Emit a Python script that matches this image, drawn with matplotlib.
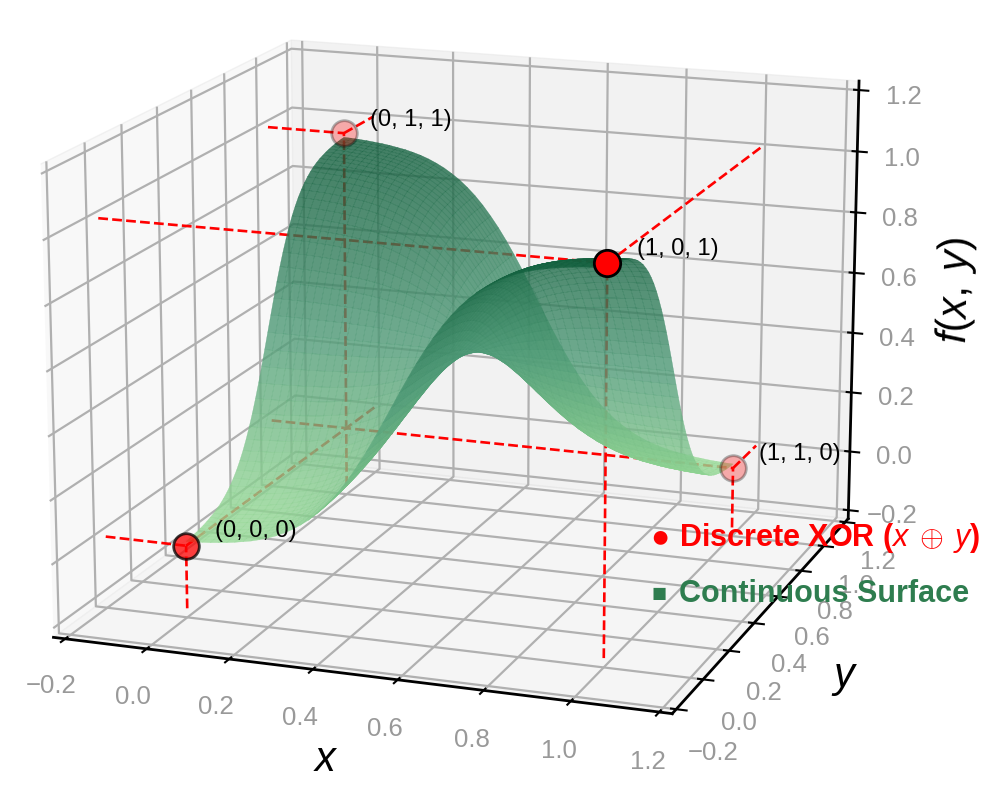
import matplotlib
matplotlib.use("Agg")
import matplotlib.pyplot as plt
from matplotlib.colors import LinearSegmentedColormap
import numpy as np

plt.rcParams['font.family'] = ['Liberation Sans', 'DejaVu Sans']
plt.rcParams['mathtext.fontset'] = 'custom'
plt.rcParams['mathtext.rm'] = 'Liberation Sans'
plt.rcParams['mathtext.it'] = 'Liberation Sans:italic'
plt.rcParams['mathtext.bf'] = 'Liberation Sans:bold'
plt.rcParams['axes3d.automargin'] = True

# transition along one axis (step 0.02 from 0 to 1)
profile_low = [0.007, 0.008, 0.010, 0.012, 0.015, 0.018, 0.022, 0.027, 0.032, 0.039,
               0.047, 0.057, 0.069, 0.083, 0.100, 0.119, 0.142, 0.168, 0.198, 0.232,
               0.269, 0.310, 0.354, 0.401, 0.450]
profile_mid = [0.500]
profile_high = [0.550, 0.599, 0.646, 0.690, 0.731, 0.768, 0.802, 0.832, 0.858, 0.881,
                0.900, 0.917, 0.931, 0.943, 0.953, 0.961, 0.968, 0.973, 0.978, 0.982,
                0.985, 0.988, 0.990, 0.992, 0.993]
grid_x = [i / 50 for i in range(51)]

xor_x = [0, 0, 1, 1]
xor_y = [0, 1, 0, 1]
xor_z = [0, 1, 1, 0]
xor_alpha = [0.75, 0.3, 1.0, 0.3]
xor_size = [340, 340, 360, 340]
point_labels = ["(0, 0, 0)", "(0, 1, 1)", "(1, 0, 1)", "(1, 1, 0)"]
ticks = [-0.2, 0.0, 0.2, 0.4, 0.6, 0.8, 1.0, 1.2]

fig = plt.figure(figsize=(9.97, 7.98), dpi=100)
ax = fig.add_axes([-0.042, 0.046, 1.0, 1.0], projection='3d', computed_zorder=False)
ax.view_init(elev=15.5, azim=-70.2)
ax.set_box_aspect((4, 4, 3), zoom=1.225)

profile = np.array(profile_low + profile_mid + profile_high)
X, Y = np.meshgrid(grid_x, grid_x)
sx, sy = np.meshgrid(profile, profile)
Z = sx * (1 - sy) + sy * (1 - sx)
greens = LinearSegmentedColormap.from_list('xor_greens', ['#98dc96', '#4d9a76', '#0e5c3a'])
surf = ax.plot_surface(X, Y, Z, cmap=greens, vmin=0, vmax=1, alpha=0.78, rstride=1, cstride=1,
                       linewidth=0.25, antialiased=True, shade=False, zorder=2)
surf.set_edgecolor('face')

for px, py, pz, a, s, label in zip(xor_x, xor_y, xor_z, xor_alpha, xor_size, point_labels):
    ax.plot([px, px], [py, py], [-0.2, pz], color='red', ls='--', lw=1.9, zorder=1)
    ax.plot([px, px], [py, 1.2], [pz, pz], color='red', ls='--', lw=1.9, zorder=1)
    ax.plot([-0.2, px], [py, py], [pz, pz], color='red', ls='--', lw=1.9, zorder=1)
    ax.scatter([px], [py], [pz], color='red', s=s, alpha=a, edgecolors='black',
               linewidths=2, depthshade=False, zorder=3)
    ax.text(px + 0.05, py + 0.05, pz + 0.015, label, fontsize=17, zorder=4)

ax.set_xlim(-0.2, 1.2)
ax.set_ylim(-0.2, 1.2)
ax.set_zlim(-0.2, 1.2)
ax.set_xticks(ticks)
ax.set_yticks(ticks)
ax.set_zticks(ticks)
ax.tick_params(axis='x', labelsize=18.5, labelcolor='#999999', color='black', pad=8)
ax.tick_params(axis='y', labelsize=18.5, labelcolor='#999999', color='black', pad=9)
ax.tick_params(axis='z', labelsize=18.5, labelcolor='#999999', color='black', pad=10)
ax.set_xlabel('$x$', fontsize=30, labelpad=16)
ax.set_ylabel('$y$', fontsize=30, labelpad=18)
ax.set_zlabel(r'$f(x,\:y)$', fontsize=30, labelpad=21)
for axis in (ax.xaxis, ax.yaxis, ax.zaxis):
    axis.line.set_color('black')
    axis.line.set_linewidth(2)
    axis.pane.set_edgecolor('#e6e6e6')
    axis._axinfo['grid']['color'] = '#b0b0b0'
    axis._axinfo['grid']['linewidth'] = 1.6
    axis._axinfo['tick']['linewidth'] = {True: 1.5, False: 1.0}

fig.text(0.652, 0.326, '●', color='red', fontsize=23, va='center')
fig.text(0.681, 0.326, r'Discrete XOR ($\mathit{x}\;\oplus\:\mathit{y}$)', color='red',
         fontsize=22, fontweight='bold', va='center')
fig.text(0.653, 0.256, '■', color='#2e7d4f', fontsize=18, va='center')
fig.text(0.681, 0.256, 'Continuous Surface', color='#2e7d4f', fontsize=22,
         fontweight='bold', va='center')

fig.savefig('out.png', dpi=100)
